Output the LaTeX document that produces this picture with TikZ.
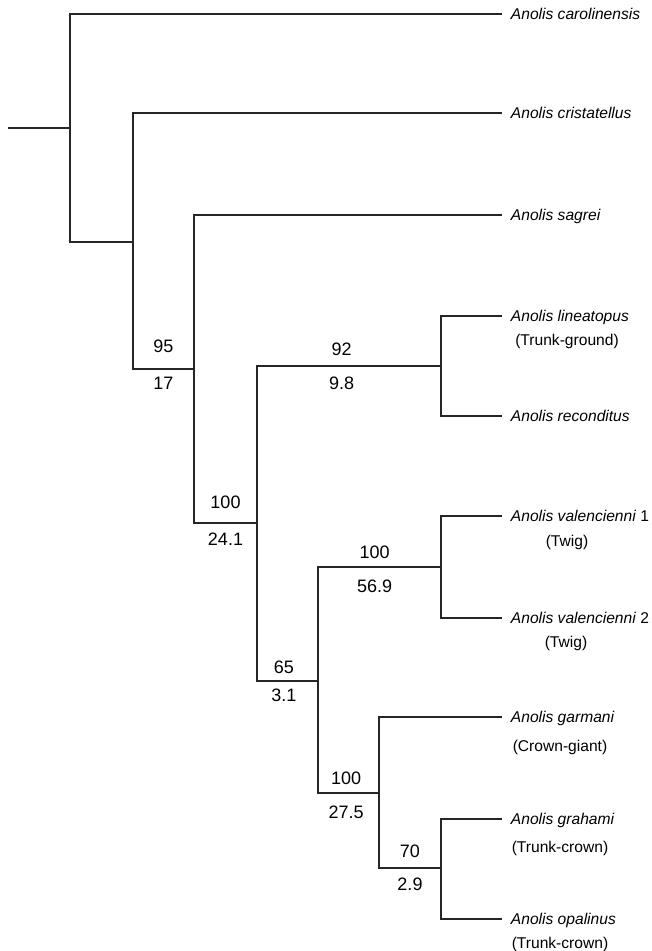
\documentclass[tikz,border=0pt]{standalone}
\usepackage{fontspec}
\setmainfont{Liberation Sans}
\usetikzlibrary{positioning}

\begin{document}
\begin{tikzpicture}[
        x=0.75pt, y=-0.75pt,
        branch/.style={draw=black!85, line width=0.8pt},
        taxon/.style={anchor=west, inner xsep=6.5pt, inner ysep=0pt, text height=8.4pt, text depth=0pt, font=\fontsize{11.7}{14}\selectfont\itshape},
        habitat/.style={inner sep=0pt, font=\fontsize{11.7}{14}\selectfont},
        support/.style={above=5pt, inner sep=2pt, font=\fontsize{13.5}{16}\selectfont},
        blen/.style={below=5pt, inner sep=2pt, font=\fontsize{13.5}{16}\selectfont}
    ]
        \useasboundingbox (0,0) rectangle (652,951);

        % Internal nodes
        \coordinate (root) at (8,128);
        \coordinate (n0) at (70,128);
        \coordinate (n1) at (133,242);
        \coordinate (n2) at (194,369);
        \coordinate (n3) at (257,523);
        \coordinate (n4) at (441,366);
        \coordinate (n5) at (318,681);
        \coordinate (n6) at (441,567);
        \coordinate (n7) at (379,793);
        \coordinate (n8) at (441,868);

        % Taxa
        \node[taxon] (carolinensis) at (502,14) {Anolis carolinensis};
        \node[taxon] (cristatellus) at (502,113) {Anolis cristatellus};
        \node[taxon] (sagrei) at (502,215) {Anolis sagrei};
        \node[taxon] (lineatopus) at (502,316) {Anolis lineatopus};
        \node[taxon] (reconditus) at (502,416) {Anolis reconditus};
        \node[taxon] (valA) at (502,516) {Anolis valencienni\/ \upshape 1};
        \node[taxon] (valB) at (502,618) {Anolis valencienni\/ \upshape 2};
        \node[taxon] (garmani) at (502,717) {Anolis garmani};
        \node[taxon] (grahami) at (502,819) {Anolis grahami};
        \node[taxon] (opalinus) at (502,919) {Anolis opalinus};

        % Habitats
        \node[habitat] (habA) at (567,341) {(Trunk-ground)};
        \node[habitat] (habB) at (567,542) {(Twig)};
        \node[habitat] (habC) at (566,643) {(Twig)};
        \node[habitat] (habD) at (560,747) {(Crown-giant)};
        \node[habitat] (habE) at (560,848) {(Trunk-crown)};
        \node[habitat] (habF) at (560,944) {(Trunk-crown)};

        % Branches
        \draw[branch] (root) -- (n0);
        \draw[branch] (n0) |- (carolinensis);
        \draw[branch] (n0) |- (n1);
        \draw[branch] (n1) |- (cristatellus);
        \draw[branch] (n1) |- node[pos=0.75, support, above=10pt] {95} node[pos=0.75, blen, below=3.5pt] {17} (n2);
        \draw[branch] (n2) |- (sagrei);
        \draw[branch] (n2) |- node[pos=0.75, support, above=8.5pt] {100} node[pos=0.75, blen] {24.1} (n3);
        \draw[branch] (n3) |- node[pos=0.73, support] {92} node[pos=0.73, blen, below=6pt] {9.8} (n4);
        \draw[branch] (n3) |- node[pos=0.72, support, above=3pt] {65} node[pos=0.72, blen, below=3.5pt] {3.1} (n5);
        \draw[branch] (n4) |- (lineatopus);
        \draw[branch] (n4) |- (reconditus);
        \draw[branch] (n5) |- node[pos=0.73, support, above=4pt] {100} node[pos=0.73, blen, below=7pt] {56.9} (n6);
        \draw[branch] (n5) |- node[pos=0.73, support, above=4pt] {100} node[pos=0.73, blen, below=7pt] {27.5} (n7);
        \draw[branch] (n6) |- (valA);
        \draw[branch] (n6) |- (valB);
        \draw[branch] (n7) |- (garmani);
        \draw[branch] (n7) |- node[pos=0.75, support] {70} node[pos=0.75, blen] {2.9} (n8);
        \draw[branch] (n8) |- (grahami);
        \draw[branch] (n8) |- (opalinus);
    \end{tikzpicture}
\end{document}
